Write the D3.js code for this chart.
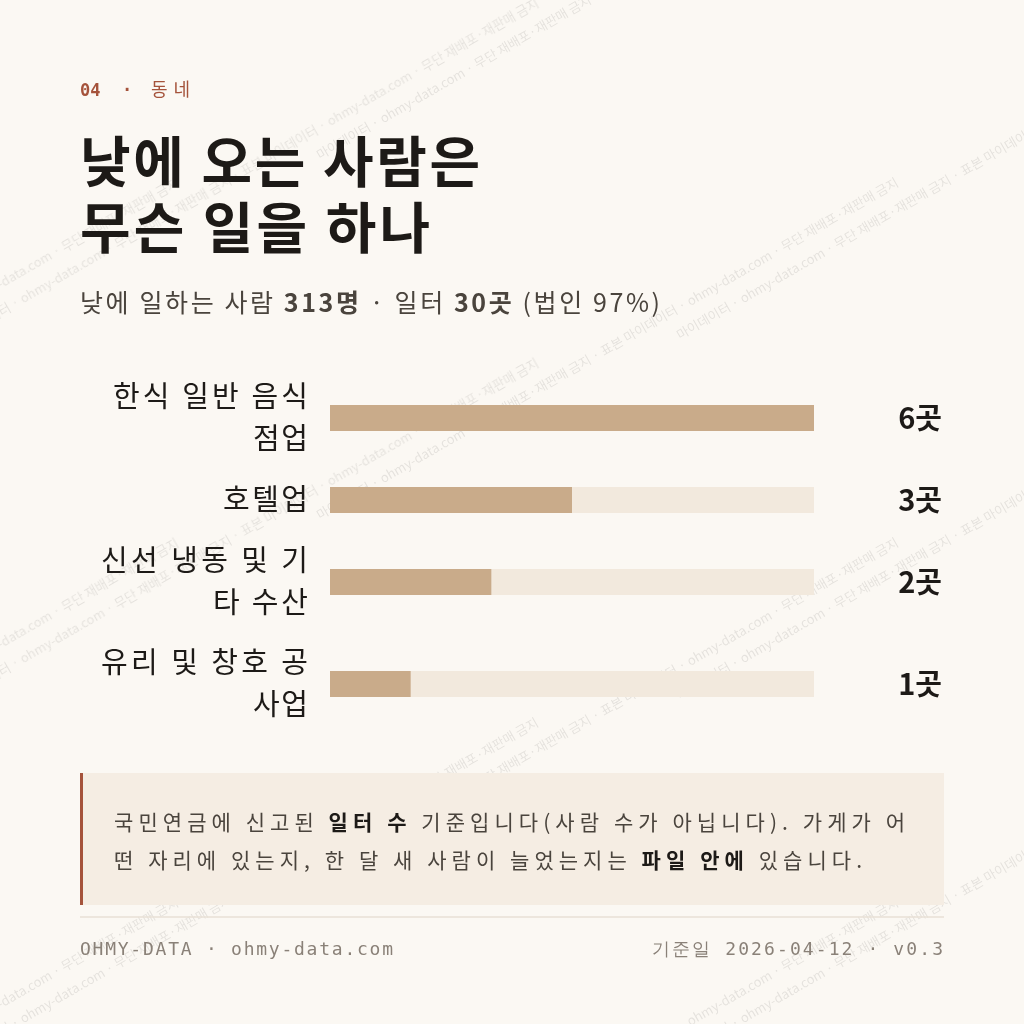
<!DOCTYPE html>
<html><head><meta charset="utf-8">
<script src="https://cdn.jsdelivr.net/npm/d3@7"></script>
<style>body{margin:0;background:#fbf8f3}svg{display:block}</style>
</head><body><svg id="c" width="1024" height="1024"></svg>
<script>
const categories=[["한식 일반 음식","점업"],["호텔업"],["신선 냉동 및 기","타 수산"],["유리 및 창호 공","사업"]];
const values=[6,3,2,1];
const valueLabels=["6곳","3곳","2곳","1곳"];
const rowY=[418,500,582,684];
const labelLen={"한식 일반 음식":195,"점업":55,"호텔업":85,"신선 냉동 및 기":207,"타 수산":95,"유리 및 창호 공":207,"사업":55};
const svg=d3.select("#c");
const F="'Noto Sans CJK KR','Noto Sans',sans-serif", M="'DejaVu Sans Mono',monospace";
svg.append("rect").attr("width",1024).attr("height",1024).attr("fill","#fbf8f3");
const wm=svg.append("g").attr("fill","#000").attr("opacity",0.09).attr("font-family",F).attr("font-size",13);
const wt="마이데이터 · ohmy-data.com · 무단 재배포·재판매 금지 · 표본 마이데이터 · ohmy-data.com · 무단 재배포·재판매 금지";
for(let gy=-200;gy<1300;gy+=180){for(let gx=-400;gx<1200;gx+=720){
  wm.append("text").attr("transform",`translate(${gx+((gy+200)/180%2?360:0)},${gy}) rotate(-30)`).text(wt);}}
svg.append("text").attr("x",80).attr("y",96).attr("font-family",M).attr("font-weight","bold").attr("font-size",17).attr("fill","#a5533b").text("04");
svg.append("text").attr("x",127).attr("y",96).attr("text-anchor","middle").attr("font-family",M).attr("font-weight","bold").attr("font-size",17).attr("fill","#a5533b").text("·");
svg.append("text").attr("x",151).attr("y",96).attr("font-family",F).attr("font-size",18).attr("fill","#a5533b").attr("textLength",39).text("동네");
[["낮에 오는 사람은",400],["무슨 일을 하나",350]].forEach((t,i)=>svg.append("text").attr("x",80).attr("y",182+i*66).attr("font-family",F).attr("font-weight","bold").attr("font-size",55).attr("fill","#1d1a17").attr("textLength",t[1]).attr("lengthAdjust","spacing").text(t[0]));
const sub=svg.append("text").attr("x",80).attr("y",312).attr("font-family",F).attr("font-size",25).attr("fill","#4a443d").attr("textLength",580);
sub.append("tspan").text("낮에 일하는 사람 ");sub.append("tspan").attr("font-weight","bold").text("313명");
sub.append("tspan").text(" · 일터 ");sub.append("tspan").attr("font-weight","bold").text("30곳");
sub.append("tspan").text(" (법인 97%)");
const x=d3.scaleLinear().domain([0,6]).range([330,814]);
categories.forEach((c,i)=>{
  const y=rowY[i];
  svg.append("rect").attr("x",x(0)).attr("y",y-13).attr("width",x(6)-x(0)).attr("height",26).attr("fill","#f2e9dd");
  svg.append("rect").attr("x",x(0)).attr("y",y-13).attr("width",x(values[i])-x(0)).attr("height",26).attr("fill","#c9ab8a");
  const n=c.length;
  c.forEach((l,j)=>svg.append("text").attr("x",308-labelLen[l]).attr("y",y+10+(j-(n-1)/2)*42).attr("font-family",F).attr("font-size",29).attr("fill","#1d1a17").attr("textLength",labelLen[l]).text(l));
  svg.append("text").attr("x",942).attr("y",y+11).attr("text-anchor","end").attr("font-family",F).attr("font-weight","bold").attr("font-size",29).attr("fill","#1d1a17").text(valueLabels[i]);
});
svg.append("rect").attr("x",80).attr("y",773).attr("width",864).attr("height",132).attr("fill","#f5ede3");
svg.append("rect").attr("x",80).attr("y",773).attr("width",3).attr("height",132).attr("fill","#a5533b");
const n1=svg.append("text").attr("x",114).attr("y",830).attr("font-family",F).attr("font-size",21).attr("fill","#4a443d").attr("textLength",791);
n1.append("tspan").text("국민연금에 신고된 ");n1.append("tspan").attr("font-weight","bold").attr("fill","#1d1a17").text("일터 수");
n1.append("tspan").text(" 기준입니다(사람 수가 아닙니다). 가게가 어");
const n2=svg.append("text").attr("x",114).attr("y",868).attr("font-family",F).attr("font-size",21).attr("fill","#4a443d").attr("textLength",748);
n2.append("tspan").text("떤 자리에 있는지, 한 달 새 사람이 늘었는지는 ");n2.append("tspan").attr("font-weight","bold").attr("fill","#1d1a17").text("파일 안에");
n2.append("tspan").text(" 있습니다.");
svg.append("line").attr("x1",80).attr("x2",944).attr("y1",917).attr("y2",917).attr("stroke","#e8e1d6").attr("stroke-width",1.5);
svg.append("text").attr("x",80).attr("y",955).attr("font-family",M).attr("font-size",18).attr("fill","#8a8178").attr("textLength",313).text("OHMY-DATA · ohmy-data.com");
svg.append("text").attr("x",652).attr("y",955).attr("font-family",M).attr("font-size",18).attr("fill","#8a8178").attr("textLength",291).text("기준일 2026-04-12 · v0.3");
</script></body></html>
